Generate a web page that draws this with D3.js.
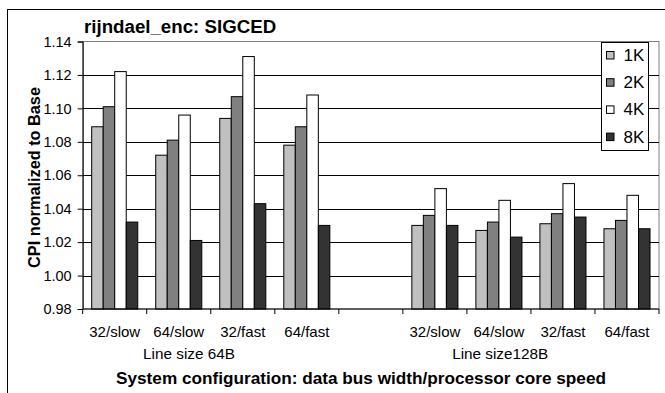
<!DOCTYPE html>
<html>
<head>
<meta charset="utf-8">
<script src="https://cdn.jsdelivr.net/npm/d3@7/dist/d3.min.js"></script>
<style>
  html, body { margin: 0; padding: 0; background: #fff; }
  svg { display: block; }
  text { font-family: "Liberation Sans", Arial, sans-serif; fill: #000; }
</style>
</head>
<body>
<svg id="chart" width="665" height="393"></svg>
<script>
// Chart data
const title = "rijndael_enc: SIGCED";
const groups = ["Line size 64B", "Line size128B"];
const configs = ["32/slow", "64/slow", "32/fast", "64/fast"];
const series = ["1K", "2K", "4K", "8K"];
const values1K = [1.089, 1.072, 1.094, 1.078, 1.030, 1.027, 1.031, 1.028];
const values2K = [1.101, 1.081, 1.107, 1.089, 1.036, 1.032, 1.037, 1.033];
const values4K = [1.122, 1.096, 1.131, 1.108, 1.052, 1.045, 1.055, 1.048];
const values8K = [1.032, 1.021, 1.043, 1.030, 1.030, 1.023, 1.035, 1.028];
const yTicks = [0.98, 1.00, 1.02, 1.04, 1.06, 1.08, 1.10, 1.12, 1.14];
const yLabel = "CPI normalized to Base";
const xLabel = "System configuration: data bus width/processor core speed";

const seriesValues = [values1K, values2K, values4K, values8K];
const seriesFill = { "1K": "#c0c0c0", "2K": "#808080", "4K": "#ffffff", "8K": "#333333" };

// Slots along the category axis: four configs per group, one empty slot between groups
const slots = [];
groups.forEach((g, gi) => {
  if (gi > 0) slots.push({ key: "gap" + gi, group: null, label: "" });
  configs.forEach((c, ci) => slots.push({ key: g + "|" + c, group: gi, label: c, idx: gi * configs.length + ci }));
});

const svg = d3.select("#chart");
const W = 665, H = 393;
const plot = { left: 82.7, right: 659, top: 41.5, bottom: 309 };

const x = d3.scaleBand().domain(slots.map(s => s.key)).range([plot.left, plot.right]).paddingInner(0).paddingOuter(0);
const xs = d3.scaleBand().domain(series).range([0, x.bandwidth()]).paddingInner(0).paddingOuter(0.78);
const y = d3.scaleLinear().domain([0.98, 1.14]).range([plot.bottom, plot.top]);

// Outer chart frame
svg.append("rect")
  .attr("x", 7.5).attr("y", 9.5).attr("width", W + 10).attr("height", H + 10)
  .attr("fill", "#fff").attr("stroke", "#000").attr("stroke-width", 1);

// Plot area
svg.append("rect")
  .attr("x", plot.left).attr("y", plot.top)
  .attr("width", plot.right - plot.left).attr("height", plot.bottom - plot.top)
  .attr("fill", "#fff").attr("stroke", "#808080").attr("stroke-width", 1);

// Horizontal gridlines
svg.append("g").selectAll("line")
  .data(yTicks.filter(t => t > 0.98 && t < 1.14))
  .join("line")
  .attr("x1", plot.left).attr("x2", plot.right)
  .attr("y1", d => Math.round(y(d)) + 0.5).attr("y2", d => Math.round(y(d)) + 0.5)
  .attr("stroke", "#000").attr("stroke-width", 1);

// Bars
const barData = [];
slots.filter(s => s.group !== null).forEach(s => {
  series.forEach((name, si) => barData.push({ slot: s.key, name, value: seriesValues[si][s.idx] }));
});
svg.append("g").selectAll("rect")
  .data(barData)
  .join("rect")
  .attr("x", d => x(d.slot) + xs(d.name))
  .attr("y", d => y(d.value))
  .attr("width", xs.bandwidth())
  .attr("height", d => y(0.98) - y(d.value))
  .attr("fill", d => seriesFill[d.name])
  .attr("stroke", "#000").attr("stroke-width", 1);

// Y axis
const yAxis = svg.append("g")
  .attr("transform", `translate(${plot.left},0)`)
  .call(d3.axisLeft(y).tickValues(yTicks).tickFormat(d3.format(".2f")).tickSize(5).tickPadding(6));
yAxis.select(".domain").attr("stroke", "#000");
yAxis.selectAll(".tick line").attr("stroke", "#000");
yAxis.selectAll(".tick text")
  .style("font-family", '"Liberation Sans", Arial, sans-serif')
  .style("font-size", "14.5px").attr("fill", "#000");

// X axis: tick marks at slot boundaries, config labels under each slot
const xAxis = svg.append("g");
xAxis.append("line")
  .attr("x1", plot.left).attr("x2", plot.right)
  .attr("y1", plot.bottom).attr("y2", plot.bottom)
  .attr("stroke", "#000");
const boundaries = slots.map(s => x(s.key)).concat([x(slots[slots.length - 1].key) + x.bandwidth()]);
xAxis.selectAll("line.tk")
  .data(boundaries)
  .join("line").attr("class", "tk")
  .attr("x1", d => d).attr("x2", d => d)
  .attr("y1", plot.bottom).attr("y2", plot.bottom + 5)
  .attr("stroke", "#000");
xAxis.selectAll("text.cat")
  .data(slots.filter(s => s.label))
  .join("text").attr("class", "cat")
  .attr("x", d => x(d.key) + x.bandwidth() / 2)
  .attr("y", 336.5)
  .attr("text-anchor", "middle")
  .style("font-size", "15px")
  .text(d => d.label);

// Group labels
const groupShift = [-0.34, -0.48];
xAxis.selectAll("text.grp")
  .data(groups)
  .join("text").attr("class", "grp")
  .attr("x", (g, gi) => {
    const keys = slots.filter(s => s.group === gi).map(s => s.key);
    const x0 = x(keys[0]), x1 = x(keys[keys.length - 1]) + x.bandwidth();
    return (x0 + x1) / 2 + groupShift[gi] * x.bandwidth();
  })
  .attr("y", 358.5)
  .attr("text-anchor", "middle")
  .style("font-size", "15.3px")
  .text(d => d);

// Titles
svg.append("text")
  .attr("x", 84).attr("y", 33.3)
  .style("font-size", "18.7px").style("font-weight", "bold")
  .text(title);

svg.append("text")
  .attr("x", 361).attr("y", 384)
  .attr("text-anchor", "middle")
  .style("font-size", "17.2px").style("font-weight", "bold")
  .text(xLabel);

svg.append("text")
  .attr("transform", "translate(40,177.5) rotate(-90)")
  .attr("text-anchor", "middle")
  .style("font-size", "16.3px").style("font-weight", "bold")
  .text(yLabel);

// Legend
const legend = svg.append("g");
legend.append("rect")
  .attr("x", 601.5).attr("y", 42.5).attr("width", 47).attr("height", 108)
  .attr("fill", "#fff").attr("stroke", "#000").attr("stroke-width", 1);
const item = legend.selectAll("g.item")
  .data(series)
  .join("g").attr("class", "item")
  .attr("transform", (d, i) => `translate(0,${55 + i * 27.2})`);
item.append("rect")
  .attr("x", 606.5).attr("y", -3.5).attr("width", 7.5).attr("height", 7.5)
  .attr("fill", d => seriesFill[d]).attr("stroke", "#000").attr("stroke-width", 1);
item.append("text")
  .attr("x", 623.5).attr("y", 6)
  .style("font-size", "17px")
  .text(d => d);
</script>
</body>
</html>
